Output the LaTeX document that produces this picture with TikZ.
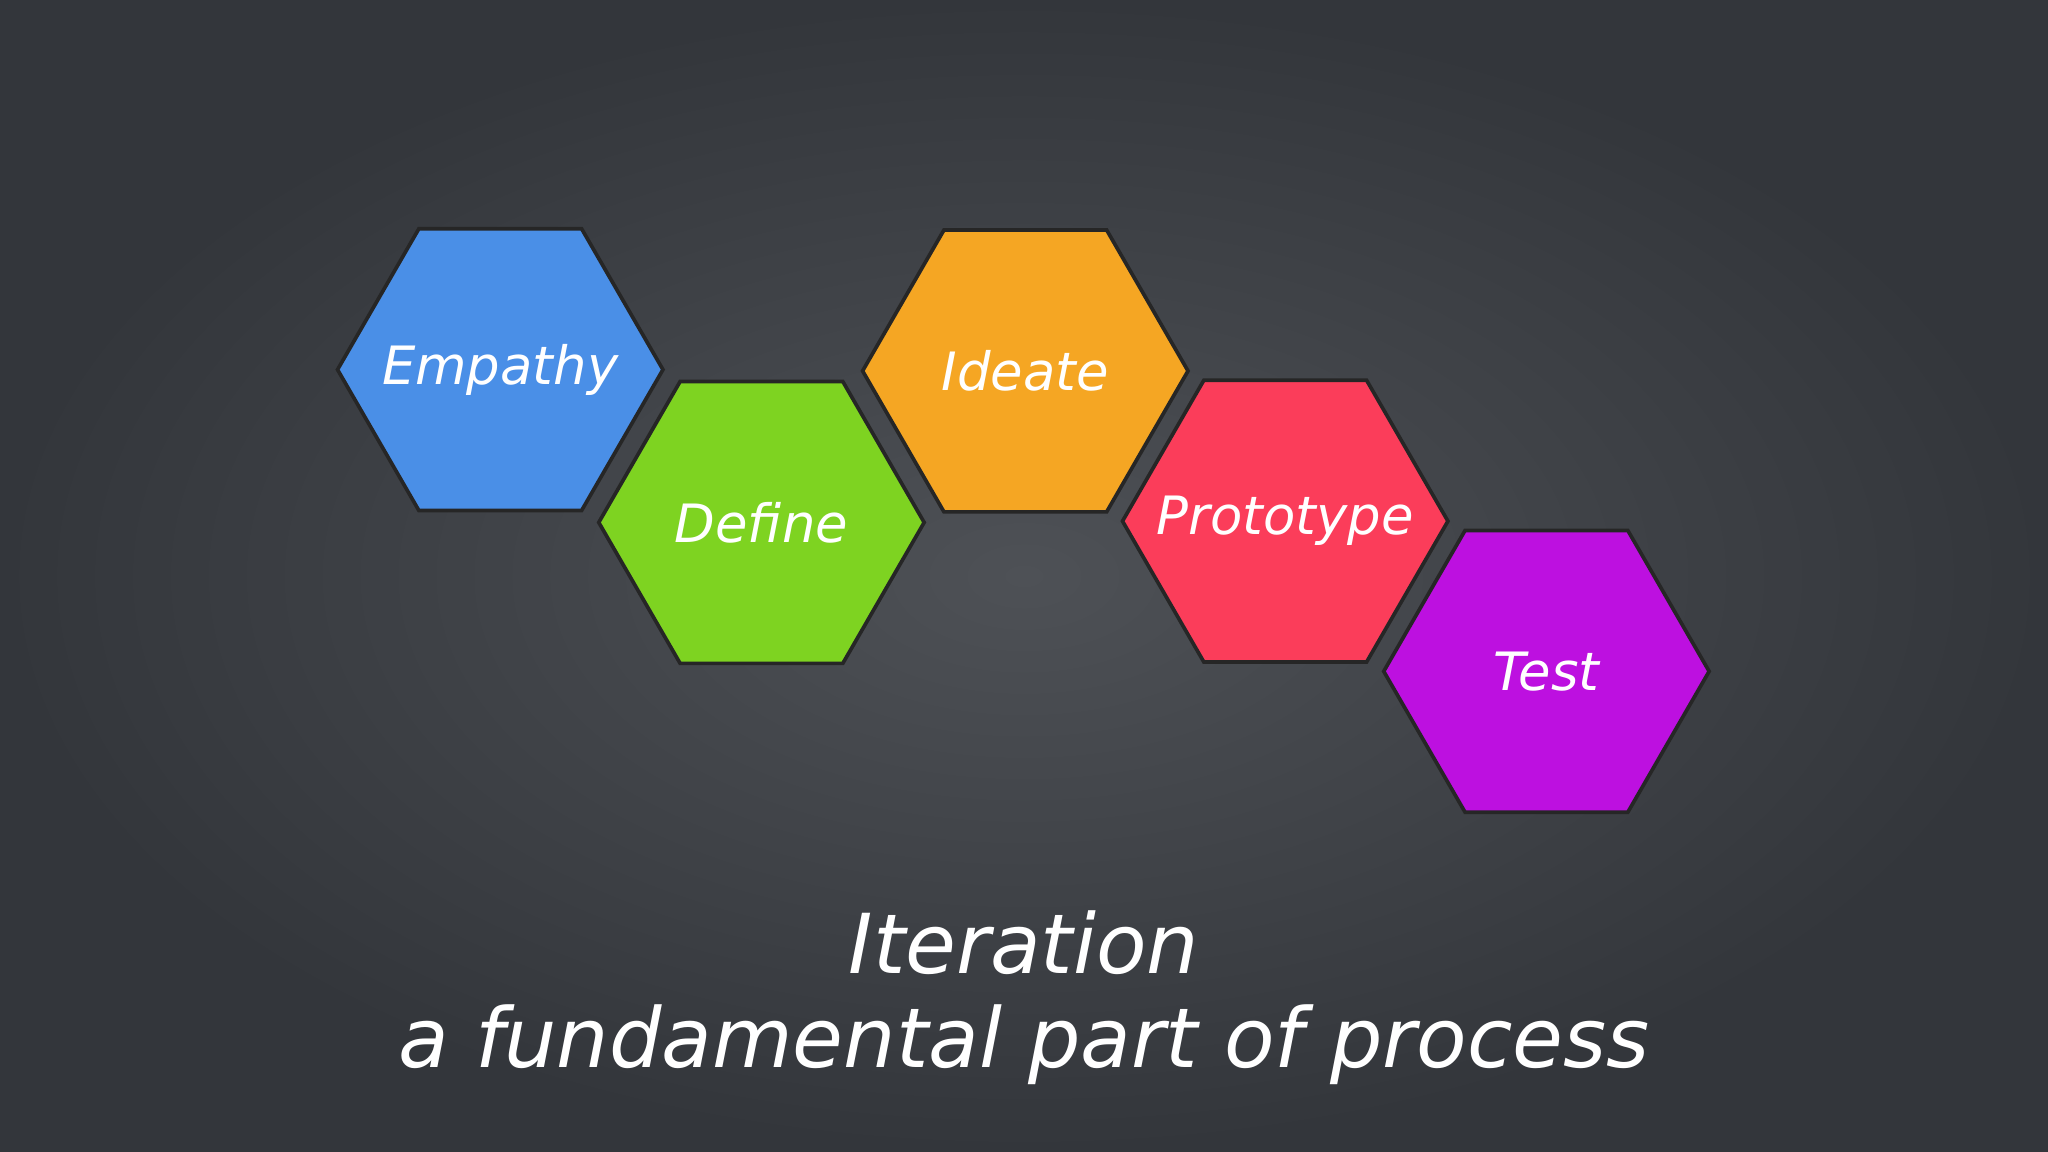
\documentclass[tikz,border=0pt]{standalone}
\usepackage{fontspec}
\setmainfont{DejaVu Sans}
\usetikzlibrary{shapes.geometric}
\definecolor{bgc}{HTML}{4E5156}
\definecolor{bge}{HTML}{33363B}
\definecolor{cblue}{HTML}{4A8FE7}
\definecolor{cgreen}{HTML}{7ED321}
\definecolor{corange}{HTML}{F5A623}
\definecolor{cred}{HTML}{FB3D5A}
\definecolor{cpurple}{HTML}{BD10E0}
\begin{document}
\begin{tikzpicture}[x=0.01cm,y=-0.01cm,
  hexa/.style={regular polygon,regular polygon sides=6,shape border rotate=0,
    minimum size=2.49cm,inner sep=0pt,draw=black!70!gray,line width=0.8pt},
  lbl/.style={text=white,font=\fontsize{11.5}{14}\selectfont\itshape},
  ttl/.style={text=white,font=\fontsize{18}{22}\selectfont\itshape}]
\useasboundingbox (0,0) rectangle (1568,882);
\shade[inner color=bgc,outer color=bge] (0,0) rectangle (1568,882);
\node[hexa,fill=cblue] (emp) at (383,283) {};
\node[hexa,fill=cgreen] (def) at (583,400) {};
\node[hexa,fill=corange] (ide) at (785,284) {};
\node[hexa,fill=cred] (pro) at (984,399) {};
\node[hexa,fill=cpurple] (tes) at (1184,514) {};
\node[lbl] at (emp) {Empathy};
\node[lbl] at (def) {Define};
\node[lbl] at (ide) {Ideate};
\node[lbl] at (pro) {Prototype};
\node[lbl] at (tes) {Test};
\node[ttl] (t1) at (784,722) {Iteration};
\node[ttl] (t2) at (784,800) {a fundamental part of process};
\end{tikzpicture}
\end{document}
